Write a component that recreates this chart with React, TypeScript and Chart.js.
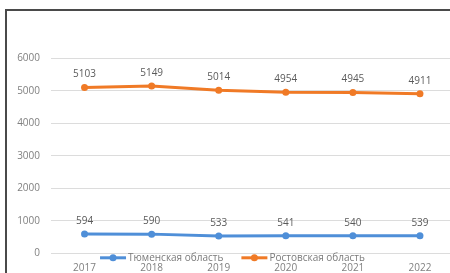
import React, { useEffect, useRef } from "react";
import { Chart, registerables } from "chart.js";

Chart.register(...registerables);

const years = ["2017", "2018", "2019", "2020", "2021", "2022"];
const tyumen = [594, 590, 533, 541, 540, 539];
const rostov = [5103, 5149, 5014, 4954, 4945, 4911];
const seriesNames = ["Тюменская область", "Ростовская область"];
const yTicksMax = 6000;
const yTickStep = 1000;

const FONT = "'Open Sans', 'Noto Sans', 'DejaVu Sans', sans-serif";
const BLUE = "#4F8FD8";
const ORANGE = "#F07A26";

const dataLabels = {
  id: "dataLabels",
  afterDatasetsDraw(chart: any) {
    const ctx = chart.ctx;
    ctx.save();
    ctx.font = `10px ${FONT}`;
    ctx.fillStyle = "#5a5a5a";
    ctx.textAlign = "center";
    ctx.textBaseline = "middle";
    chart.data.datasets.forEach((ds: any, i: number) => {
      const meta = chart.getDatasetMeta(i);
      meta.data.forEach((pt: any, j: number) => {
        ctx.fillText(String(ds.data[j]), pt.x, pt.y - 13);
      });
    });
    ctx.restore();
  },
};

const customLegend = {
  id: "customLegend",
  afterDraw(chart: any) {
    const ctx = chart.ctx;
    ctx.save();
    ctx.font = `10px ${FONT}`;
    ctx.textBaseline = "middle";
    ctx.textAlign = "left";
    const lineW = 26;
    const gap = 2;
    const itemGap = 18;
    const items = chart.data.datasets.map((ds: any) => ({
      label: ds.label,
      color: ds.borderColor,
      w: lineW + gap + ctx.measureText(ds.label).width,
    }));
    const total = items.reduce((a: number, b: any) => a + b.w, 0) + itemGap * (items.length - 1);
    let x = 232.5 - total / 2;
    const y = chart.chartArea.bottom + 4.5;
    items.forEach((it: any) => {
      ctx.strokeStyle = it.color;
      ctx.lineWidth = 3;
      ctx.beginPath();
      ctx.moveTo(x, y);
      ctx.lineTo(x + lineW, y);
      ctx.stroke();
      ctx.fillStyle = it.color;
      ctx.beginPath();
      ctx.arc(x + lineW / 2, y, 3.5, 0, Math.PI * 2);
      ctx.fill();
      ctx.fillStyle = "#7a7a7a";
      ctx.fillText(it.label, x + lineW + gap, y);
      x += it.w + itemGap;
    });
    ctx.restore();
  },
};

export default function App() {
  const ref = useRef<HTMLCanvasElement>(null);
  useEffect(() => {
    if (!ref.current) return;
    const chart = new Chart(ref.current, {
      type: "line",
      data: {
        labels: years,
        datasets: [
          {
            label: seriesNames[0],
            data: tyumen,
            borderColor: BLUE,
            backgroundColor: BLUE,
            borderWidth: 3,
            pointRadius: 3.5,
            pointBorderWidth: 0,
            tension: 0,
          },
          {
            label: seriesNames[1],
            data: rostov,
            borderColor: ORANGE,
            backgroundColor: ORANGE,
            borderWidth: 3,
            pointRadius: 3.5,
            pointBorderWidth: 0,
            tension: 0,
          },
        ],
      },
      options: {
        responsive: false,
        animation: false,
        layout: { padding: { top: 58.3, bottom: 16.7, left: 0, right: 26.5 } },
        plugins: { legend: { display: false }, tooltip: { enabled: false } },
        scales: {
          x: {
            offset: true,
            grid: { display: false, drawTicks: false },
            border: { display: false },
            ticks: { color: "#808080", font: { size: 10, family: FONT }, padding: 9 },
            afterFit: (s: any) => {
              s.height = 30;
            },
          },
          y: {
            min: 0,
            max: yTicksMax,
            ticks: {
              stepSize: yTickStep,
              color: "#808080",
              font: { size: 10, family: FONT },
              padding: 11,
              callback: (v: any) => String(v),
            },
            grid: { color: "#dcdcdc", lineWidth: 1, drawTicks: false },
            border: { display: false },
            afterFit: (s: any) => {
              s.width = 51;
            },
          },
        },
      },
      plugins: [dataLabels, customLegend],
    });
    return () => chart.destroy();
  }, []);
  return (
    <>
      <style>{`body{margin:0;overflow:hidden;background:#fff}`}</style>
      <div style={{ position: "absolute", left: 0, top: 0, width: 480, height: 300, overflow: "hidden" }}>
        <canvas ref={ref} width={480} height={300} style={{ position: "absolute", left: 0, top: 0 }} />
        <div
          style={{
            position: "absolute",
            left: 5,
            top: 9,
            width: 500,
            height: 300,
            borderLeft: "2px solid #4a4a4a",
            borderTop: "2px solid #4a4a4a",
          }}
        />
      </div>
    </>
  );
}
